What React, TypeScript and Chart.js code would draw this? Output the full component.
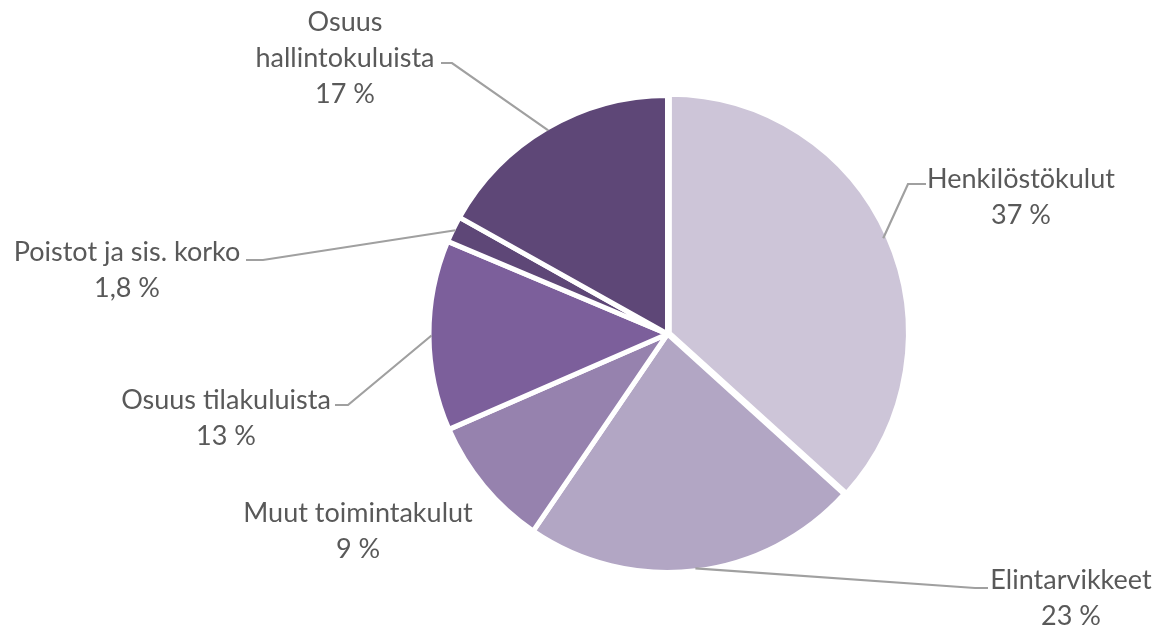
import { useEffect, useRef } from "react";
import { Chart, registerables } from "chart.js";

Chart.register(...registerables);

const categories = [
  "Henkilöstökulut",
  "Elintarvikkeet",
  "Muut toimintakulut",
  "Osuus tilakuluista",
  "Poistot ja sis. korko",
  "Osuus hallintokuluista",
];
const values = [37, 23, 9, 13, 1.8, 17];
const valueLabels = ["37 %", "23 %", "9 %", "13 %", "1,8 %", "17 %"];
const labelLines = [
  ["Henkilöstökulut"],
  ["Elintarvikkeet"],
  ["Muut toimintakulut"],
  ["Osuus tilakuluista"],
  ["Poistot ja sis. korko"],
  ["Osuus", "hallintokuluista"],
];
const colors = ["#CDC5D8", "#B2A6C4", "#9682AE", "#7C5F9B", "#5E4777", "#5E4777"];
const offsets = [8, 0, 0, 0, 0, 0];

// label text placement (block centre x, first line centre y) and leader elbows
const labelLayout = [
  { cx: 1021, y: 179, leader: [[908, 184], [926, 184]] },
  { cx: 1071, y: 580, leader: [[975, 588], [988, 588]] },
  { cx: 358, y: 513, leader: null },
  { cx: 226, y: 400, leader: [[348, 405], [335, 405]] },
  { cx: 127, y: 252, leader: [[263, 260], [246, 260]] },
  { cx: 345, y: 22, leader: [[452, 63], [441, 63]] },
];
const LINE_H = 36;
const FONT = "27px Lato";

const labelPlugin = {
  id: "pieLabels",
  afterDatasetsDraw(chart: any) {
    const ctx = chart.ctx;
    const meta = chart.getDatasetMeta(0);
    ctx.save();
    meta.data.forEach((arc: any, i: number) => {
      const p = arc.getProps(["x", "y", "startAngle", "endAngle", "outerRadius"], true);
      const lay = labelLayout[i];
      if (lay.leader) {
        const mid = (p.startAngle + p.endAngle) / 2;
        const r = p.outerRadius - 2.5;
        const sx = p.x + Math.cos(mid) * r;
        const sy = p.y + Math.sin(mid) * r;
        ctx.beginPath();
        ctx.moveTo(sx, sy);
        lay.leader.forEach((pt: number[]) => ctx.lineTo(pt[0], pt[1]));
        ctx.strokeStyle = "#A0A0A0";
        ctx.lineWidth = 2.2;
        ctx.lineJoin = "miter";
        ctx.stroke();
      }
      ctx.fillStyle = "#595959";
      ctx.font = FONT;
      ctx.textAlign = "center";
      ctx.textBaseline = "middle";
      const lines = [...labelLines[i], valueLabels[i]];
      lines.forEach((t, k) => ctx.fillText(t, lay.cx, lay.y + k * LINE_H));
    });
    ctx.restore();
  },
};

export default function App() {
  const ref = useRef<HTMLCanvasElement | null>(null);
  useEffect(() => {
    if (!ref.current) return;
    const chart = new Chart(ref.current, {
      type: "pie",
      data: {
        labels: categories,
        datasets: [
          {
            data: values,
            backgroundColor: colors,
            borderColor: "#FFFFFF",
            borderWidth: 5,
            offset: offsets,
          },
        ],
      },
      options: {
        animation: false,
        responsive: true,
        maintainAspectRatio: false,
        radius: 238.5,
        layout: { padding: { left: 172, top: 37, right: 0, bottom: 0 } },
        plugins: {
          legend: { display: false },
          tooltip: { enabled: false },
        },
      } as any,
      plugins: [labelPlugin],
    });
    return () => chart.destroy();
  }, []);
  return (
    <div style={{ position: "absolute", left: 0, top: 0, width: 1163, height: 631, background: "#fff" }}>
      <canvas ref={ref} />
    </div>
  );
}
